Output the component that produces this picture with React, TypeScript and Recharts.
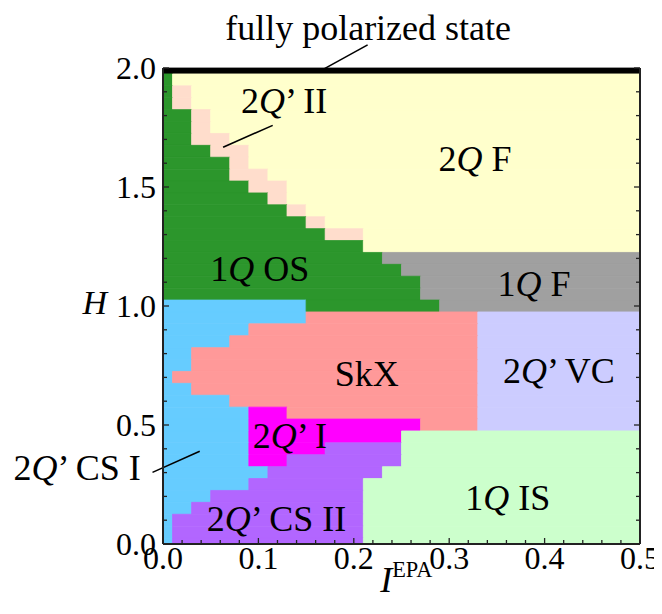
import React from 'react';
import { ComposedChart, XAxis, YAxis, ReferenceArea, ReferenceDot, ReferenceLine } from 'recharts';

const SERIF = "'Liberation Serif', 'Times New Roman', serif";

// grid points of the phase map
const I_GRID = [0, 0.02, 0.04, 0.06, 0.08, 0.1, 0.12, 0.14, 0.16, 0.18, 0.2, 0.22, 0.24,
  0.26, 0.28, 0.3, 0.32, 0.34, 0.36, 0.38, 0.4, 0.42, 0.44, 0.46, 0.48, 0.5];
const H_GRID = [2.0, 1.95, 1.9, 1.85, 1.8, 1.75, 1.7, 1.65, 1.6, 1.55, 1.5, 1.45, 1.4, 1.35,
  1.3, 1.25, 1.2, 1.15, 1.1, 1.05, 1.0, 0.95, 0.9, 0.85, 0.8, 0.75, 0.7, 0.65, 0.6, 0.55,
  0.5, 0.45, 0.4, 0.35, 0.3, 0.25, 0.2, 0.15, 0.1, 0.05, 0.0];

// phase per row (top = H 2.0), run-length: letter + count of I points
const PHASE_ROWS = [
  'F26',
  'G1 Y25',
  'G1 P1 Y24',
  'G1 P1 Y24',
  'G2 P1 Y23',
  'G2 P1 Y23',
  'G2 P2 Y22',
  'G3 P2 Y21',
  'G4 P1 Y21',
  'G4 P2 Y20',
  'G5 P2 Y19',
  'G6 P1 Y19',
  'G7 P1 Y18',
  'G8 P1 Y17',
  'G9 P2 Y15',
  'G11 Y15',
  'G12 A14',
  'G13 A13',
  'G14 A12',
  'G14 A12',
  'C8 G7 A11',
  'C8 S9 V9',
  'C5 S12 V9',
  'C4 S13 V9',
  'C2 S15 V9',
  'C2 S15 V9',
  'C1 S16 V9',
  'C2 S15 V9',
  'C4 S13 V9',
  'C5 M2 S10 V9',
  'C5 M9 S3 V9',
  'C5 M8 L13',
  'C5 M4 U4 L13',
  'C5 M2 U6 L13',
  'C6 U6 L14',
  'C5 U6 L15',
  'C3 U8 L15',
  'C2 U9 L15',
  'C1 U10 L15',
  'C1 U10 L15',
  'C1 U10 L15',
];

const PHASE_COLORS: Record<string, string> = {
  F: '#000000', // fully polarized
  Y: '#FFFFCC', // 2Q F
  P: '#FFDDCC', // 2Q' II
  G: '#2C962C', // 1Q OS
  A: '#A0A0A0', // 1Q F
  C: '#66CCFF', // 2Q' CS I
  S: '#FF9999', // SkX
  V: '#CCCCFF', // 2Q' VC
  M: '#FF00FF', // 2Q' I
  U: '#B266FF', // 2Q' CS II
  L: '#CCFFCC', // 1Q IS
};

const X_TICKS = [0, 0.02, 0.04, 0.06, 0.08, 0.1, 0.12, 0.14, 0.16, 0.18, 0.2, 0.22, 0.24,
  0.26, 0.28, 0.3, 0.32, 0.34, 0.36, 0.38, 0.4, 0.42, 0.44, 0.46, 0.48, 0.5];
const Y_TICKS = [0, 0.1, 0.2, 0.3, 0.4, 0.5, 0.6, 0.7, 0.8, 0.9, 1.0, 1.1, 1.2, 1.3, 1.4,
  1.5, 1.6, 1.7, 1.8, 1.9, 2.0];

type Part = { t: string; i?: boolean; sup?: boolean };
const LABELS: { parts: Part[]; I: number; H: number; size: number }[] = [
  { parts: [{ t: 'fully polarized state' }], I: 0.215, H: 2.17, size: 36 },
  { parts: [{ t: '2' }, { t: 'Q', i: true }, { t: '\u2019 II' }], I: 0.127, H: 1.864, size: 36 },
  { parts: [{ t: '2' }, { t: 'Q', i: true }, { t: ' F' }], I: 0.327, H: 1.62, size: 36 },
  { parts: [{ t: '1' }, { t: 'Q', i: true }, { t: ' OS' }], I: 0.1015, H: 1.158, size: 36 },
  { parts: [{ t: '1' }, { t: 'Q', i: true }, { t: ' F' }], I: 0.389, H: 1.095, size: 36 },
  { parts: [{ t: 'SkX' }], I: 0.2136, H: 0.717, size: 36 },
  { parts: [{ t: '2' }, { t: 'Q', i: true }, { t: '\u2019 VC' }], I: 0.415, H: 0.73, size: 36 },
  { parts: [{ t: '2' }, { t: 'Q', i: true }, { t: '\u2019 I' }], I: 0.133, H: 0.457, size: 36 },
  { parts: [{ t: '1' }, { t: 'Q', i: true }, { t: ' IS' }], I: 0.3615, H: 0.196, size: 36 },
  { parts: [{ t: '2' }, { t: 'Q', i: true }, { t: '\u2019 CS II' }], I: 0.119, H: 0.108, size: 36 },
  { parts: [{ t: '2' }, { t: 'Q', i: true }, { t: '\u2019 CS I' }], I: -0.09, H: 0.322, size: 36 },
  { parts: [{ t: 'H', i: true }], I: -0.0716, H: 1.015, size: 34 },
  { parts: [{ t: 'I', i: true }, { t: 'EPA', sup: true }], I: 0.255, H: -0.15, size: 36 },
];

const LEADERS = [
  [{ x: 0.166, y: 1.99 }, { x: 0.2145, y: 2.097 }],
  [{ x: 0.063, y: 1.667 }, { x: 0.115, y: 1.759 }],
  [{ x: -0.011, y: 0.301 }, { x: 0.0385, y: 0.39 }],
];

function cellEdges(grid: number[]) {
  const last = grid.length - 1;
  return grid.map((v, k) => ({
    a: k === 0 ? v : (grid[k - 1] + v) / 2,
    b: k === last ? v : (v + grid[k + 1]) / 2,
  }));
}

function buildRects() {
  const ie = cellEdges(I_GRID);
  const he = cellEdges(H_GRID);
  const rects: { x1: number; x2: number; y1: number; y2: number; phase: string }[] = [];
  PHASE_ROWS.forEach((row, k) => {
    let col = 0;
    row.split(' ').forEach((run) => {
      const phase = run[0];
      const n = parseInt(run.slice(1), 10);
      rects.push({ x1: ie[col].a, x2: ie[col + n - 1].b, y1: he[k].b, y2: he[k].a, phase });
      col += n;
    });
  });
  return rects;
}

const isMult = (v: number, step: number) => Math.abs(v / step - Math.round(v / step)) < 1e-6;

const LeftTick = ({ x, y, payload }: any) => {
  const v = payload.value;
  const major = isMult(v, 0.5);
  return (
    <g>
      <line x1={x} x2={x + (major ? 6 : 4)} y1={y} y2={y} stroke="#222" strokeWidth={1.3} />
      {major && (
        <text x={x - 7} y={y} dy="0.34em" textAnchor="end" fontSize={32} fontFamily={SERIF} fill="#000">
          {v.toFixed(1)}
        </text>
      )}
    </g>
  );
};

const RightTick = ({ x, y, payload }: any) => {
  const major = isMult(payload.value, 0.5);
  return <line x1={x} x2={x - (major ? 6 : 4)} y1={y} y2={y} stroke="#222" strokeWidth={1.3} />;
};

const BottomTick = ({ x, y, payload }: any) => {
  const v = payload.value;
  const major = isMult(v, 0.1);
  return (
    <g>
      <line x1={x} x2={x} y1={y} y2={y - (major ? 6 : 4)} stroke="#222" strokeWidth={1.3} />
      {major && (
        <text x={x} y={y + 25} textAnchor="middle" fontSize={32} fontFamily={SERIF} fill="#000">
          {v.toFixed(1)}
        </text>
      )}
    </g>
  );
};

const PhaseLabel = ({ viewBox, parts, size }: any) => {
  const vb = viewBox || { x: 0, y: 0 };
  const cx = vb.x + (vb.width || 0) / 2;
  const cy = vb.y + (vb.height || 0) / 2;
  return (
    <text x={cx} y={cy} dy="0.35em" textAnchor="middle" fontSize={size} fontFamily={SERIF} fill="#000">
      {parts.map((p: Part, k: number) => (
        <tspan
          key={k}
          fontStyle={p.i ? 'italic' : 'normal'}
          fontSize={p.sup ? size * 0.62 : undefined}
          dy={p.sup ? -size * 0.42 : undefined}
        >
          {p.t}
        </tspan>
      ))}
    </text>
  );
};

export default function App() {
  const rects = buildRects();
  return (
    <div style={{ width: 654, height: 592 }}>
      <ComposedChart
        width={654}
        height={592}
        margin={{ top: 60, right: 10, bottom: 0, left: 0 }}
        style={{ overflow: 'visible' }}
      >
        <XAxis
          type="number"
          dataKey="x"
          domain={[0, 0.5]}
          ticks={X_TICKS}
          interval={0}
          allowDataOverflow
          height={56}
          tickSize={0}
          tickMargin={0}
          tickLine={false}
          axisLine={{ stroke: '#222', strokeWidth: 2 }}
          tick={<BottomTick />}
        />
        <YAxis
          type="number"
          domain={[0, 2]}
          ticks={Y_TICKS}
          interval={0}
          allowDataOverflow
          width={155}
          tickSize={0}
          tickMargin={0}
          tickLine={false}
          axisLine={{ stroke: '#222', strokeWidth: 2 }}
          tick={<LeftTick />}
        />
        <YAxis
          yAxisId="right"
          orientation="right"
          type="number"
          domain={[0, 2]}
          ticks={Y_TICKS}
          interval={0}
          allowDataOverflow
          width={12}
          tickSize={0}
          tickMargin={0}
          tickLine={false}
          axisLine={{ stroke: '#222', strokeWidth: 2 }}
          tick={<RightTick />}
        />
        {rects.map((r, k) => (
          <ReferenceArea
            key={`cell-${k}`}
            x1={r.x1}
            x2={r.x2}
            y1={r.y1}
            y2={r.y2}
            fill={PHASE_COLORS[r.phase]}
            fillOpacity={1}
            stroke={PHASE_COLORS[r.phase]}
            strokeWidth={0.8}
            ifOverflow="visible"
          />
        ))}
        {LEADERS.map((seg, k) => (
          <ReferenceLine key={`lead-${k}`} segment={seg} stroke="#000" strokeWidth={1.6} ifOverflow="visible" />
        ))}
        {LABELS.map((l, k) => (
          <ReferenceDot
            key={`lab-${k}`}
            x={l.I}
            y={l.H}
            r={0}
            fill="none"
            stroke="none"
            ifOverflow="visible"
            label={<PhaseLabel parts={l.parts} size={l.size} />}
          />
        ))}
      </ComposedChart>
    </div>
  );
}
